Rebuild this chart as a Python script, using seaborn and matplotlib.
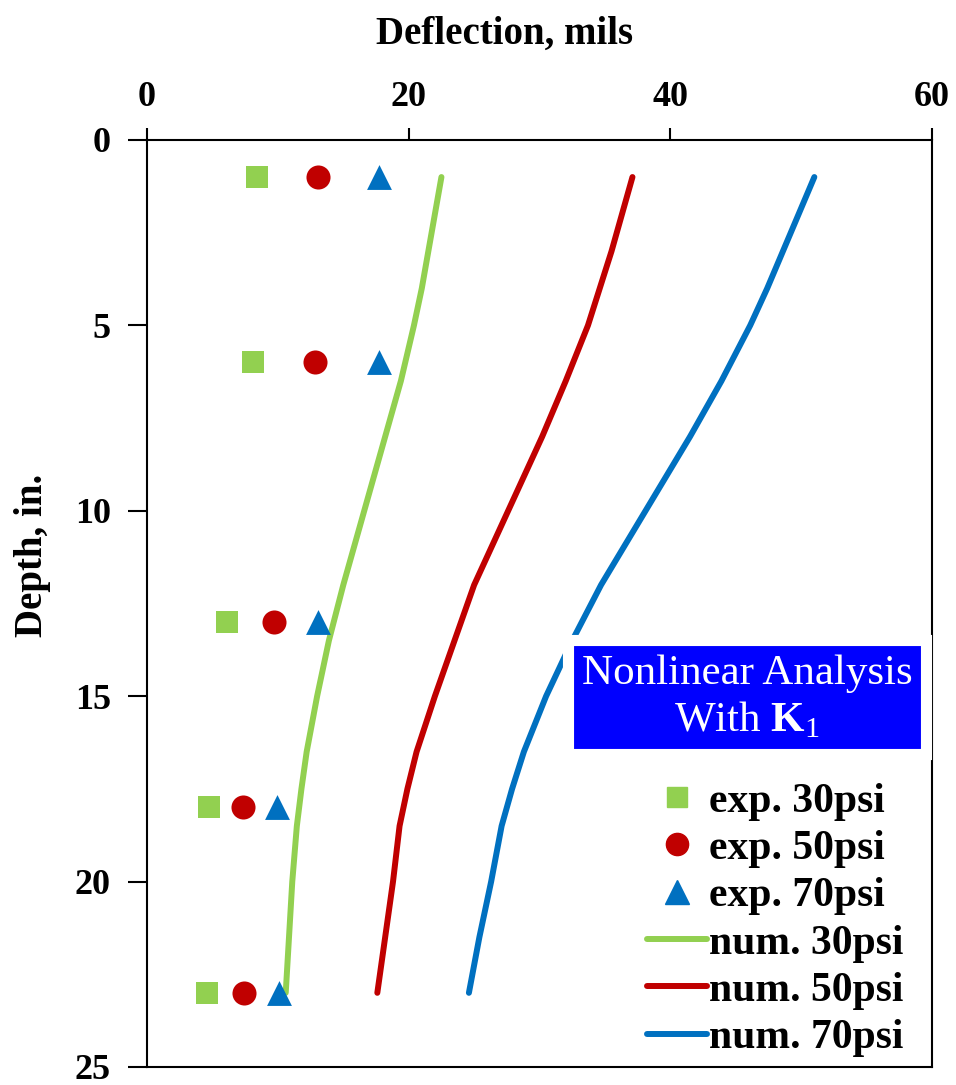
import matplotlib
matplotlib.use("Agg")
import matplotlib.pyplot as plt
import matplotlib.patheffects as pe
from matplotlib.lines import Line2D
import seaborn as sns
import pandas as pd

# ---- data ----
depth_exp = [1, 6, 13, 18, 23]
exp30 = [8.4, 8.1, 6.1, 4.7, 4.6]
exp50 = [13.1, 12.8, 9.7, 7.3, 7.4]
exp70 = [17.7, 17.7, 13.1, 9.9, 10.1]

depth_num = [1, 2, 3, 4, 5, 6.5, 8, 9, 10, 11, 12, 13.5, 15, 16.5, 17.5, 18.5, 20, 21.5, 23]
num30 = [22.5, 22.0, 21.5, 21.0, 20.4, 19.4, 18.2, 17.4, 16.6, 15.8, 15.0, 13.9, 13.0, 12.2, 11.8, 11.45, 11.1, 10.85, 10.6]
num50 = [37.1, 36.3, 35.5, 34.6, 33.7, 32.0, 30.2, 28.9, 27.6, 26.3, 25.0, 23.5, 22.0, 20.6, 19.9, 19.3, 18.8, 18.2, 17.6]
num70 = [51.0, 49.8, 48.6, 47.4, 46.1, 43.9, 41.5, 39.8, 38.1, 36.4, 34.7, 32.5, 30.5, 28.8, 27.9, 27.1, 26.3, 25.4, 24.6]

x_ticks = [0, 20, 40, 60]
y_ticks = [0, 5, 10, 15, 20, 25]

c30, c50, c70 = "#92D050", "#C00000", "#0070C0"

sns.set_style("ticks")
plt.rcParams["font.family"] = ["Liberation Serif", "DejaVu Serif"]
plt.rcParams["text.color"] = "black"
plt.rcParams["axes.labelcolor"] = "black"
plt.rcParams["xtick.color"] = "black"
plt.rcParams["ytick.color"] = "black"
plt.rcParams["mathtext.fontset"] = "custom"
plt.rcParams["mathtext.rm"] = "Liberation Serif"
plt.rcParams["mathtext.bf"] = "Liberation Serif:bold"

fig = plt.figure(figsize=(9.56, 10.85), dpi=100)
ax = fig.add_axes([0.1538, 0.0166, 0.8212, 0.8544])

lw = 4.3
for vals, col in [(num30, c30), (num50, c50), (num70, c70)]:
    df = pd.DataFrame({"x": vals, "y": depth_num})
    sns.lineplot(data=df, x="x", y="y", sort=False, estimator=None, color=col,
                 linewidth=lw, ax=ax, solid_capstyle="round", solid_joinstyle="round")

for vals, col, mk, s in [(exp30, c30, "s", 260), (exp50, c50, "o", 300), (exp70, c70, "^", 320)]:
    df = pd.DataFrame({"x": vals, "y": depth_exp})
    sns.scatterplot(data=df, x="x", y="y", color=col, marker=mk, s=s, linewidth=0, ax=ax, zorder=3)

ax.set_xlim(0, 60)
ax.set_ylim(25, 0)
ax.set_xticks(x_ticks)
ax.set_yticks(y_ticks)
ax.xaxis.tick_top()
ax.xaxis.set_label_position("top")
ax.tick_params(axis="x", direction="out", length=9, width=1.5, pad=10, labelsize=26)
ax.tick_params(axis="y", direction="out", length=14, width=1.5, pad=12, labelsize=26)
for lab in ax.get_xticklabels() + ax.get_yticklabels():
    lab.set_fontweight("bold")
for sp in ax.spines.values():
    sp.set_linewidth(1.5)
    sp.set_color("black")

ax.set_xlabel("Deflection, mils", fontsize=28, fontweight="bold")
ax.xaxis.set_label_coords(0.456, 1.104)
ax.set_ylabel("Depth, in.", fontsize=28, fontweight="bold")
ax.yaxis.set_label_coords(-0.122, 0.552)

t = ax.text(0.764, 0.399, "Nonlinear Analysis\nWith $\\mathbf{K}_{\\mathrm{1}}$",
            transform=ax.transAxes, ha="center", va="center", color="white",
            fontsize=31, linespacing=1.2, zorder=5,
            bbox=dict(boxstyle="square,pad=0.32", facecolor="#0000FF",
                      edgecolor="white", linewidth=8))
t.get_bbox_patch().set_path_effects([pe.SimplePatchShadow(offset=(2, -3), shadow_rgbFace="gray", alpha=0.5), pe.Normal()])

handles = [
    Line2D([], [], color=c30, marker="s", linestyle="none", markersize=15),
    Line2D([], [], color=c50, marker="o", linestyle="none", markersize=16),
    Line2D([], [], color=c70, marker="^", linestyle="none", markersize=17),
    Line2D([], [], color=c30, linewidth=lw, solid_capstyle="round"),
    Line2D([], [], color=c50, linewidth=lw, solid_capstyle="round"),
    Line2D([], [], color=c70, linewidth=lw, solid_capstyle="round"),
]
labels = ["exp. 30psi", "exp. 50psi", "exp. 70psi", "num. 30psi", "num. 50psi", "num. 70psi"]
leg = ax.legend(handles, labels, loc="lower right", bbox_to_anchor=(0.99, -0.012),
                frameon=False, prop={"family": "Liberation Serif", "weight": "bold", "size": 30},
                handlelength=1.45, handletextpad=0.05, labelspacing=0.22, borderaxespad=0.1)

fig.savefig("out.png", dpi=100)
